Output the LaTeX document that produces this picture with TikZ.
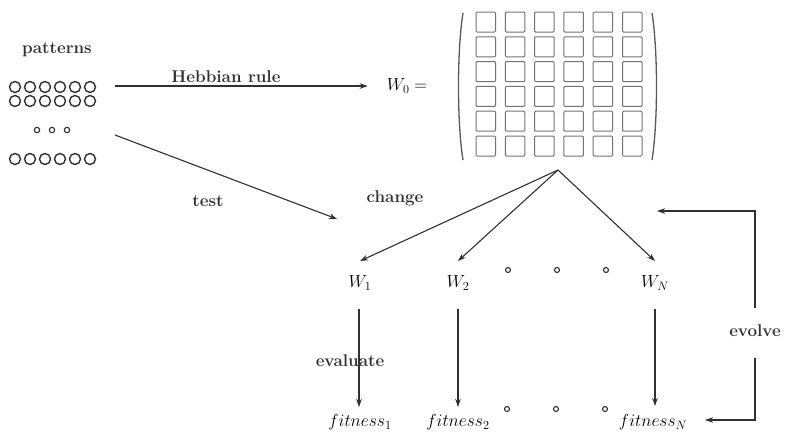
\RequirePackage{fix-cm}
\documentclass[tikz,border=0pt]{standalone}
\usepackage{fontspec}
\usetikzlibrary{arrows.meta,calc}
\definecolor{ink}{HTML}{303030}
\tikzset{
  arr/.style={-{Stealth[length=8pt,width=5.5pt]}, line width=1.1pt, draw=ink},
  ln/.style={line width=1.1pt, draw=ink},
  lab/.style={text=ink, inner sep=0pt, font=\fontsize{17}{20}\selectfont\bfseries},
  mth/.style={text=black, inner sep=0pt, font=\fontsize{17.5}{20}\selectfont},
  pcirc/.style={line width=1.4pt, draw=ink},
  cell/.style={line width=1pt, draw=black!55, rounded corners=1pt},
  paren/.style={line width=1.3pt, draw=black!65}
}
\begin{document}
\begin{tikzpicture}[x=1pt,y=-1pt]
\useasboundingbox (0,0) rectangle (785,432);
% patterns
\node[lab] (pat) at (57,50) {patterns};
\foreach \yy in {87,101,159}{
  \foreach \i in {0,...,5}{
    \draw[pcirc] (15+15*\i,\yy) circle (5.5);
  }
}
\foreach \xx in {37,52,67}{ \draw[pcirc, line width=1.1pt] (\xx,130) circle (2.7); }
% Hebbian rule
\coordinate (hs) at (115,86);
\node[mth] (W0) at (407,86) {$W_0 =$};
\draw[arr] (hs) -- ($(W0.west)+(-19,0)$);
\node[lab] (hlab) at (226,77) {Hebbian rule};
% matrix
\draw[paren] (463,13) .. controls (457,50) and (457,123) .. (463,160);
\draw[paren] (652,13) .. controls (658,50) and (658,123) .. (652,160);
\foreach \i in {0,...,5}{
  \foreach \j in {0,...,5}{
    \draw[cell] (476+29.3*\i,12+24.8*\j) rectangle ++(19.5,20);
  }
}
% test
\coordinate (ts) at (115,135);
\coordinate (te) at (337,219);
\draw[arr] (ts) -- (te);
\node[lab] (test) at (208,201) {test};
\node[lab] (chg) at (395,198) {change};
% fan
\coordinate (apex) at (558,170);
\node[mth] (W1) at (360,283) {$W_1$};
\node[mth] (W2) at (458,283) {$W_2$};
\node[mth] (WN) at (655,283) {$W_N$};
\draw[arr] (apex) -- ($(W1)+(0,-22)$);
\draw[arr] (apex) -- ($(W2)+(0,-22)$);
\draw[arr] (apex) -- ($(WN)+(0,-22)$);
\foreach \xx in {508,557,606}{ \draw[pcirc, line width=1.1pt] (\xx,270) circle (2.5); }
% fitness
\node[mth] (f1) at (360,422) {$fitness_1$};
\node[mth] (f2) at (458,422) {$fitness_2$};
\node[mth] (fN) at (653,422) {$fitness_N$};
\draw[arr] ($(W1)+(-1,26)$) -- ($(f1)+(-1,-15)$);
\draw[arr] ($(W2)+(0,26)$) -- ($(f2)+(0,-15)$);
\draw[arr] ($(WN)+(0,26)$) -- ($(fN)+(2,-16)$);
\foreach \xx in {507,556,605}{ \draw[pcirc, line width=1.1pt] (\xx,409) circle (2.5); }
\node[lab] (eval) at (350,361) {evaluate};
% evolve
\node[lab] (ev) at (755,331) {evolve};
\coordinate (evt) at (755,211);
\coordinate (evh) at (657,211);
\coordinate (evb) at (705,420);
\draw[arr] ($(ev)+(0,-23)$) -- (evt) -- (evh);
\draw[arr] ($(ev)+(0,27)$) |- (evb);
\end{tikzpicture}
\end{document}
